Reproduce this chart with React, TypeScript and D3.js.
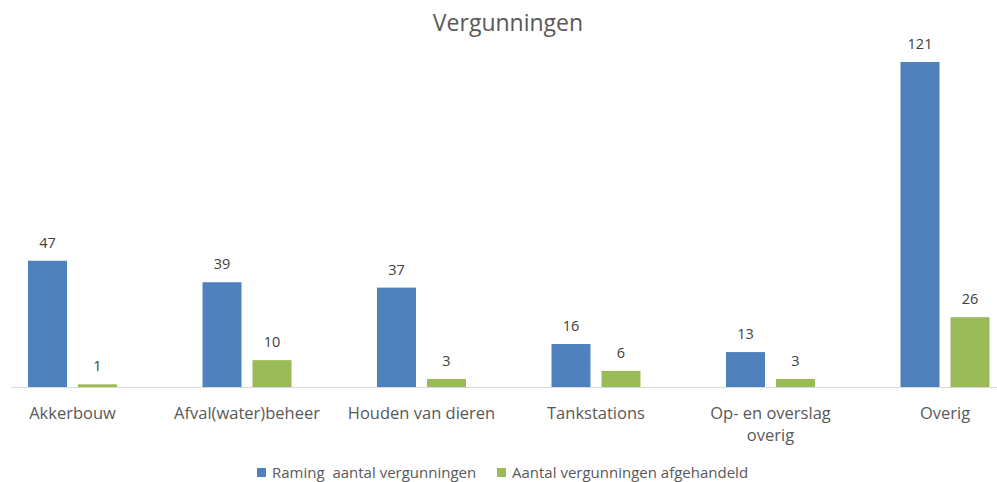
import React from "react";
import * as d3 from "d3";

const categories: string[][] = [
  ["Akkerbouw"],
  ["Afval(water)beheer"],
  ["Houden van dieren"],
  ["Tankstations"],
  ["Op- en overslag", "overig"],
  ["Overig"],
];
const raming: number[] = [47, 39, 37, 16, 13, 121];
const afgehandeld: number[] = [1, 10, 3, 6, 3, 26];
const seriesNames: string[] = ["Raming  aantal vergunningen", "Aantal vergunningen afgehandeld"];
const seriesColors: string[] = ["#4F81BD", "#9BBB59"];

const W = 997;
const H = 482;
const FONT = "'Open Sans', 'Liberation Sans', sans-serif";

export default function App() {
  const baseY = 387;
  const x0 = d3
    .scaleBand<number>()
    .domain(d3.range(categories.length))
    .range([-14.75, -14.75 + 174.5 * categories.length])
    .padding(0);
  const x1 = d3.scaleBand<number>().domain([0, 1]).range([-44.5, 44.5]).paddingInner(0.22).paddingOuter(0);
  const y = d3.scaleLinear().domain([0, 121]).range([baseY, 62]);
  const series = [raming, afgehandeld];

  return (
    <svg width={W} height={H} style={{ position: "absolute", left: 0, top: 0, display: "block" }}>
      <rect width={W} height={H} fill="#fff" />
      <text x={508} y={31} textAnchor="middle" fontFamily={FONT} fontSize={23} fill="#595959">
        Vergunningen
      </text>
      <line x1={11} x2={W} y1={baseY + 0.5} y2={baseY + 0.5} stroke="#D9D9D9" strokeWidth={1} />
      {categories.map((cat, i) => {
        const cx = (x0(i) as number) + x0.bandwidth() / 2;
        return (
          <g key={i}>
            {series.map((vals, s) => {
              const bx = cx + (x1(s) as number);
              const v = vals[i];
              return (
                <g key={s}>
                  <rect x={bx} y={y(v)} width={x1.bandwidth()} height={baseY - y(v)} fill={seriesColors[s]} />
                  <text
                    x={bx + x1.bandwidth() / 2}
                    y={y(v) - 13}
                    textAnchor="middle"
                    fontFamily={FONT}
                    fontSize={14.5}
                    fill="#404040"
                  >
                    {v}
                  </text>
                </g>
              );
            })}
            {cat.map((line, k) => (
              <text
                key={k}
                x={cx}
                y={419 + k * 22}
                textAnchor="middle"
                fontFamily={FONT}
                fontSize={16.5}
                fill="#595959"
              >
                {line}
              </text>
            ))}
          </g>
        );
      })}
      {seriesNames.map((name, s) => {
        const lx = s === 0 ? 257 : 497;
        return (
          <g key={s}>
            <rect x={lx} y={468} width={9} height={9} fill={seriesColors[s]} />
            <text x={lx + 15} y={478} fontFamily={FONT} fontSize={15} fill="#595959" style={{ whiteSpace: "pre" }}>
              {name}
            </text>
          </g>
        );
      })}
    </svg>
  );
}
